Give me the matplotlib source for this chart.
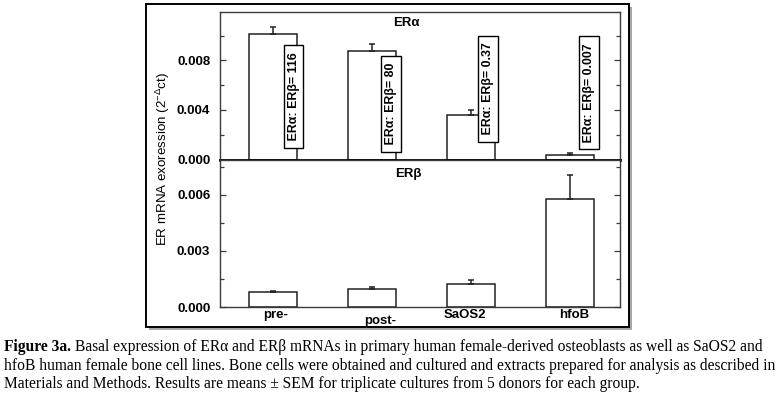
import matplotlib
matplotlib.use("Agg")
import matplotlib.pyplot as plt
import matplotlib.transforms as mtransforms
from matplotlib.patches import Rectangle

# ---- data ----
categories = ["pre-", "post-", "SaOS2", "hfoB"]
era_mean = [0.0101, 0.00873, 0.00356, 0.00038]
era_sem = [0.0006, 0.0006, 0.0004, 0.00013]
erb_mean = [0.00079, 0.00096, 0.00125, 0.00579]
erb_sem = [0.00008, 0.00011, 0.00020, 0.00128]
ratio_values = ["116", "80", "0.37", "0.007"]

caption_lines = [
    "Basal expression of ERα and ERβ mRNAs in primary human female-derived osteoblasts as well as SaOS2 and",
    "hfoB human female bone cell lines. Bone cells were obtained and cultured and extracts prepared for analysis as described in",
    "Materials and Methods. Results are means ± SEM for triplicate cultures from 5 donors for each group.",
]

# ---- layout ----
W, H = 777, 397
SANS = ["Liberation Sans", "DejaVu Sans"]
SERIF = ["Liberation Serif", "DejaVu Serif"]
plt.rcParams["font.family"] = SANS
plt.rcParams["mathtext.fontset"] = "custom"
plt.rcParams["mathtext.rm"] = "Liberation Sans"
plt.rcParams["mathtext.it"] = "Liberation Sans"

box_y = [0.0051, 0.0045, 0.0057, 0.0054]     # centre of ratio boxes (top panel)
box_dx = [0.21, 0.19, 0.17, 0.19]             # offset of ratio boxes from bar centre
label_dx = [3, 8, -6, 4]                      # pixel nudges of category labels
label_dy = [0, -6, 0, 0]

fig = plt.figure(figsize=(W / 100, H / 100), dpi=100)


def px(x0, y0, x1, y1):
    return [x0 / W, 1 - y1 / H, (x1 - x0) / W, (y1 - y0) / H]


ax_top = fig.add_axes(px(220, 12, 620, 159.5))
ax_bot = fig.add_axes(px(220, 159.5, 620, 307))

x = list(range(len(categories)))
bar_w = 0.49
spine_col = "#3a3a3a"

for ax, mean, sem, ymax, major, minor in [
    (ax_top, era_mean, era_sem, 0.0119, [0, 0.004, 0.008], [0.002, 0.006, 0.010]),
    (ax_bot, erb_mean, erb_sem, 0.0079, [0, 0.003, 0.006], [0.0015, 0.0045, 0.0075]),
]:
    ax.bar(x, mean, width=bar_w, color="white", edgecolor="#222222", linewidth=1.1, zorder=2)
    ax.errorbar(x, mean, yerr=[[0] * len(sem), sem], fmt="none", ecolor="#222222",
                elinewidth=1.1, capsize=2.3, capthick=1.1, zorder=3)
    ax.set_xlim(-0.535, 3.505)
    ax.set_ylim(0, ymax)
    ax.set_yticks(major)
    ax.set_yticks(minor, minor=True)
    ax.set_yticklabels([f"{v:.3f}" for v in major], fontweight="bold", fontsize=9.5)
    ax.tick_params(axis="y", which="both", direction="in", left=True, right=True,
                   length=4, width=0.9, color=spine_col, pad=7)
    ax.tick_params(axis="y", which="minor", length=3)
    for s in ax.spines.values():
        s.set_color(spine_col)
        s.set_linewidth(1.0)

ax_top.set_xticks([])
ax_top.spines["bottom"].set_color("black")
ax_top.spines["bottom"].set_linewidth(2.0)
ax_top.spines["bottom"].set_zorder(5)

ax_bot.set_xticks(x)
ax_bot.set_xticklabels(categories, fontweight="bold", fontsize=9.5)
ax_bot.tick_params(axis="x", length=0, pad=1.5)
for lbl, dx, dy in zip(ax_bot.get_xticklabels(), label_dx, label_dy):
    lbl.set_transform(lbl.get_transform()
                      + mtransforms.ScaledTranslation(dx / 100, dy / 100, fig.dpi_scale_trans))

ax_top.text(0.465, 0.925, "ERα", transform=ax_top.transAxes, ha="center", va="center",
            fontsize=9.5, fontweight="bold")
ax_bot.text(0.47, 0.90, "ERβ", transform=ax_bot.transAxes, ha="center", va="center",
            fontsize=9.5, fontweight="bold")

for xi, dx, yc, val in zip(x, box_dx, box_y, ratio_values):
    ax_top.text(xi + dx, yc, f" ERα: ERβ= {val} ", rotation=90, ha="center", va="center",
                fontsize=8.9, fontweight="bold", zorder=6,
                bbox=dict(boxstyle="square,pad=0.3", fc="white", ec="black", lw=1.0))

fig.text(163 / W, 1 - 159 / H, "ER mRNA exoression (2$^{-\\Delta}$ct)", rotation=90,
         ha="center", va="center", fontsize=9.6)

# outer frame with drop shadow
fig.add_artist(Rectangle((149 / W, 1 - 330 / H), 483 / W, 323 / H, transform=fig.transFigure,
                         fc="#a8a8a8", ec="none", zorder=-3))
fig.add_artist(Rectangle((146 / W, 1 - 327 / H), 483 / W, 323 / H, transform=fig.transFigure,
                         fc="white", ec="black", lw=1.4, zorder=-2))

# caption
cap_size = 11.2
line_y = [347, 366, 384]
renderer = fig.canvas.get_renderer()
head = fig.text(4 / W, 1 - line_y[0] / H, "Figure 3a.", ha="left", va="center",
                fontsize=cap_size, fontweight="bold", family=SERIF)
bb = head.get_window_extent(renderer)
fig.text((bb.x1 + 4) / W, 1 - line_y[0] / H, caption_lines[0], ha="left", va="center",
         fontsize=cap_size, family=SERIF)
for txt, yy in zip(caption_lines[1:], line_y[1:]):
    fig.text(4 / W, 1 - yy / H, txt, ha="left", va="center", fontsize=cap_size, family=SERIF)

fig.savefig("out.png", dpi=100, facecolor="white")
